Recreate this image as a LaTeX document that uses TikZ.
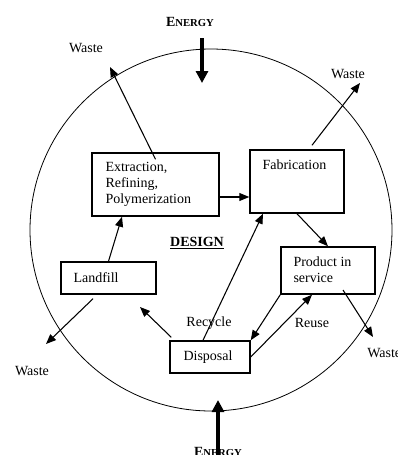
\documentclass[tikz,border=0pt]{standalone}
\usepackage{fontspec}
\setmainfont{Liberation Serif}
\usetikzlibrary{arrows.meta,calc}
\begin{document}
\begin{tikzpicture}[x=0.75pt,y=-0.75pt,
  font=\fontsize{10.5}{12}\selectfont,
  box/.style={draw,line width=1.1pt,inner sep=0pt,rectangle},
  txt/.style={inner sep=0pt,align=left},
  arr/.style={line width=0.8pt,-{Triangle[length=7.5pt,width=6pt]}},
  energyarr/.style={line width=2.4pt,-{Triangle[length=9pt,width=9pt]}},
  energy/.style={font=\fontsize{10.5}{12}\selectfont\bfseries}
]
\useasboundingbox (0,0) rectangle (398,455);
% circle
\draw[line width=0.6pt] (211,230) circle [radius=135.75pt];
% boxes
\node[box,minimum width=95.25pt,minimum height=47.25pt] (ext) at (155.5,184.5) {};
\node[box,minimum width=70.5pt,minimum height=47.25pt] (fab) at (297,181.5) {};
\node[box,minimum width=71.25pt,minimum height=24pt] (land) at (108.5,278) {};
\node[box,minimum width=70.5pt,minimum height=35.25pt] (prod) at (328,270.5) {};
\node[box,minimum width=60pt,minimum height=24pt] (disp) at (210,357) {};
% box texts
\node[txt,anchor=north west] (extt) at ($(ext.north west)+(14,10)$) {Extraction,\\Refining,\\Polymerization};
\node[txt,anchor=north west] (fabt) at ($(fab.north west)+(13,10)$) {Fabrication};
\node[txt,anchor=north west] (prodt) at ($(prod.north west)+(13,10)$) {Product in\\service};
\node[txt,anchor=west] (landt) at ($(land.west)+(13,0)$) {Landfill};
\node[txt,anchor=west] (dispt) at ($(disp.west)+(14,0)$) {Disposal};
% labels
\node[energy] (etop) at (190,22) {E{\fontsize{8}{10}\selectfont NERGY}};
\node[energy] (ebot) at (218,452) {E{\fontsize{8}{10}\selectfont NERGY}};
\node (wtl) at (86,48) {Waste};
\node (wtr) at (348,74) {Waste};
\node (wbl) at (32,371) {Waste};
\node[anchor=west,inner sep=0pt] (wr) at (367,353) {Waste};
\node (design) at (197,243) {\underline{\textbf{DESIGN}}};
\node (recycle) at (209,323) {Recycle};
\node (reuse) at (312,323) {Reuse};
% free ends
\coordinate (e1s) at (202,38);
\coordinate (e1e) at (202,83);
\coordinate (e2s) at (218,460);
\coordinate (e2e) at (218,400);
\coordinate (wtlend) at (110,67);
\coordinate (wtrend) at (360,83);
\coordinate (wblend) at (46,344);
\coordinate (wrend) at (373,337);
\coordinate (dlend) at (140,307);
% energy arrows
\draw[energyarr] (e1s) -- (e1e);
\draw[energyarr] (e2s) -- (e2e);
% flow arrows
\draw[arr] ($(ext.north)+(0,7)$) -- (wtlend);
\draw[arr] ($(fab.north)+(15,-4)$) -- (wtrend);
\coordinate (a) at ($(ext.east)+(0,12.5)$);
\draw[arr] (a) -- (a -| fab.west);
\draw[arr] (land.north) -- ($(ext.south)+(-33.5,0)$);
\draw[arr] ($(disp.north)+(-7,0)$) -- ($(fab.south)+(-34,0)$);
\draw[arr] (fab.south) -- (prod.north);
\draw[arr] ($(land.south)+(-15.5,4)$) -- (wblend);
\draw[arr] ($(disp.north west)+(2,-3)$) -- (dlend);
\draw[arr] (prod.south west) -- (disp.north east);
\draw[arr] (disp.east) -- ($(prod.south)+(-16,0)$);
\draw[arr] ($(prod.center)+(15,19.5)$) -- (wrend);
\end{tikzpicture}
\end{document}
